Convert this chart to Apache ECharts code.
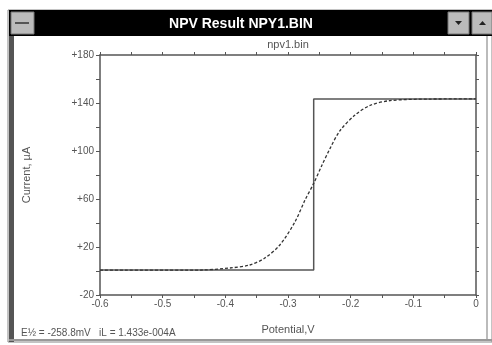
<!DOCTYPE html>
<html>
<head>
<meta charset="utf-8">
<script src="https://cdn.jsdelivr.net/npm/echarts@6/dist/echarts.min.js"></script>
<style>
html, body { margin: 0; padding: 0; background: #fff; }
#chart { width: 492px; height: 345px; }
</style>
</head>
<body>
<div id="chart"></div>
<script>
// potential (V) / current (uA)
const fitPotential = [-0.6, -0.44, -0.393, -0.361, -0.337, -0.313, -0.289, -0.273, -0.259, -0.246, -0.233, -0.217, -0.193, -0.169, -0.137, -0.073, 0];
const fitCurrent = [0.8, 0.8, 2.5, 5, 10.8, 21.7, 40.8, 59, 73, 88, 102, 117, 130, 138, 142, 143.3, 143.4];
const stepPotential = [-0.6, -0.259, -0.259, 0];
const stepCurrent = [0.8, 0.8, 143.3, 143.3];

const yTicks = [-20, 20, 60, 100, 140, 180];
const windowTitle = 'NPV Result NPY1.BIN';
const plotTitle = 'npv1.bin';
const statusText = 'E½ = -258.8mV   iL = 1.433e-004A';

const font = 'Liberation Sans, Arial, sans-serif';
const axisColor = '#555';
const textColor = '#555';

const chart = echarts.init(document.getElementById('chart'));

function pairs(xs, ys) {
  return xs.map((x, i) => [x, ys[i]]);
}

function xLabel(v) {
  const h = Math.round(v * 100);
  if (h % 10 !== 0) return '';
  return h === 0 ? '0' : (h / 100).toFixed(1);
}

function yLabel(v) {
  if (!yTicks.includes(v)) return '';
  return v > 0 ? '+' + v : String(v);
}

const option = {
  animation: false,
  backgroundColor: '#fff',
  grid: { left: 100, right: 16, top: 55, bottom: 50 },
  xAxis: [
    {
      type: 'value', min: -0.6, max: 0, interval: 0.05,
      axisLine: { onZero: false, lineStyle: { color: axisColor, width: 1.5 } },
      axisTick: { length: 3, lineStyle: { color: axisColor } },
      splitLine: { show: false },
      axisLabel: { color: textColor, fontFamily: font, fontSize: 10, margin: 4, formatter: xLabel },
      name: 'Potential,V', nameLocation: 'middle', nameGap: 29,
      nameTextStyle: { color: textColor, fontFamily: font, fontSize: 11 }
    },
    {
      type: 'value', position: 'top', min: -0.6, max: 0, interval: 0.05,
      axisLine: { onZero: false, lineStyle: { color: axisColor, width: 1.5 } },
      axisTick: { length: 3, lineStyle: { color: axisColor } },
      axisLabel: { show: false }, splitLine: { show: false }
    }
  ],
  yAxis: [
    {
      type: 'value', min: -20, max: 180, interval: 20,
      axisLine: { show: true, onZero: false, lineStyle: { color: axisColor, width: 1.5 } },
      axisTick: { show: true, length: 4, lineStyle: { color: axisColor } },
      splitLine: { show: false },
      axisLabel: { color: textColor, fontFamily: font, fontSize: 10, margin: 6, formatter: yLabel },
      name: 'Current, µA', nameLocation: 'middle', nameGap: 68, nameRotate: 90,
      nameTextStyle: { color: textColor, fontFamily: font, fontSize: 11 }
    },
    {
      type: 'value', position: 'right', min: -20, max: 180, interval: 20,
      axisLine: { show: true, onZero: false, lineStyle: { color: axisColor, width: 1.5 } },
      axisTick: { show: true, length: 3, lineStyle: { color: axisColor } },
      axisLabel: { show: false }, splitLine: { show: false }
    }
  ],
  series: [
    {
      type: 'line', name: 'step', data: pairs(stepPotential, stepCurrent),
      showSymbol: false, lineStyle: { color: '#555', width: 1.5 }
    },
    {
      type: 'line', name: 'fit', data: pairs(fitPotential, fitCurrent),
      smooth: 0.3, showSymbol: false,
      lineStyle: { color: '#333', width: 1.3, type: [3, 2] }
    }
  ],
  graphic: [
    // window frame
    { type: 'rect', shape: { x: 8, y: 10, width: 484, height: 332 }, style: { fill: 'none', stroke: '#888', lineWidth: 1 }, z: 0 },
    { type: 'rect', shape: { x: 9, y: 10, width: 5, height: 332 }, style: { fill: '#555' } },
    { type: 'rect', shape: { x: 486, y: 36, width: 2, height: 304 }, style: { fill: '#bbb' } },
    { type: 'rect', shape: { x: 9, y: 339, width: 483, height: 2 }, style: { fill: '#999' } },
    // title bar
    { type: 'rect', shape: { x: 9, y: 10, width: 483, height: 26 }, style: { fill: '#000' } },
    { type: 'rect', shape: { x: 11, y: 12, width: 23, height: 22 }, style: { fill: '#bbb', stroke: '#777' } },
    { type: 'rect', shape: { x: 15, y: 22, width: 14, height: 2 }, style: { fill: '#555' } },
    { type: 'rect', shape: { x: 448, y: 12, width: 21, height: 22 }, style: { fill: '#bbb', stroke: '#777' } },
    { type: 'rect', shape: { x: 472, y: 12, width: 20, height: 22 }, style: { fill: '#bbb', stroke: '#777' } },
    { type: 'polygon', shape: { points: [[455, 21], [462, 21], [458.5, 25]] }, style: { fill: '#222' } },
    { type: 'polygon', shape: { points: [[479, 25], [486, 25], [482.5, 21]] }, style: { fill: '#222' } },
    {
      type: 'text', z: 10,
      style: { x: 241, y: 24, text: windowTitle, fill: '#fff', font: 'bold 14px ' + font, align: 'center', verticalAlign: 'middle' }
    },
    // plot title and status line
    {
      type: 'text',
      style: { x: 288, y: 45, text: plotTitle, fill: textColor, font: '11px ' + font, align: 'center', verticalAlign: 'middle' }
    },
    {
      type: 'text',
      style: { x: 21, y: 333, text: statusText, fill: textColor, font: '10px ' + font, align: 'left', verticalAlign: 'middle' }
    }
  ]
};

chart.setOption(option);
</script>
</body>
</html>
